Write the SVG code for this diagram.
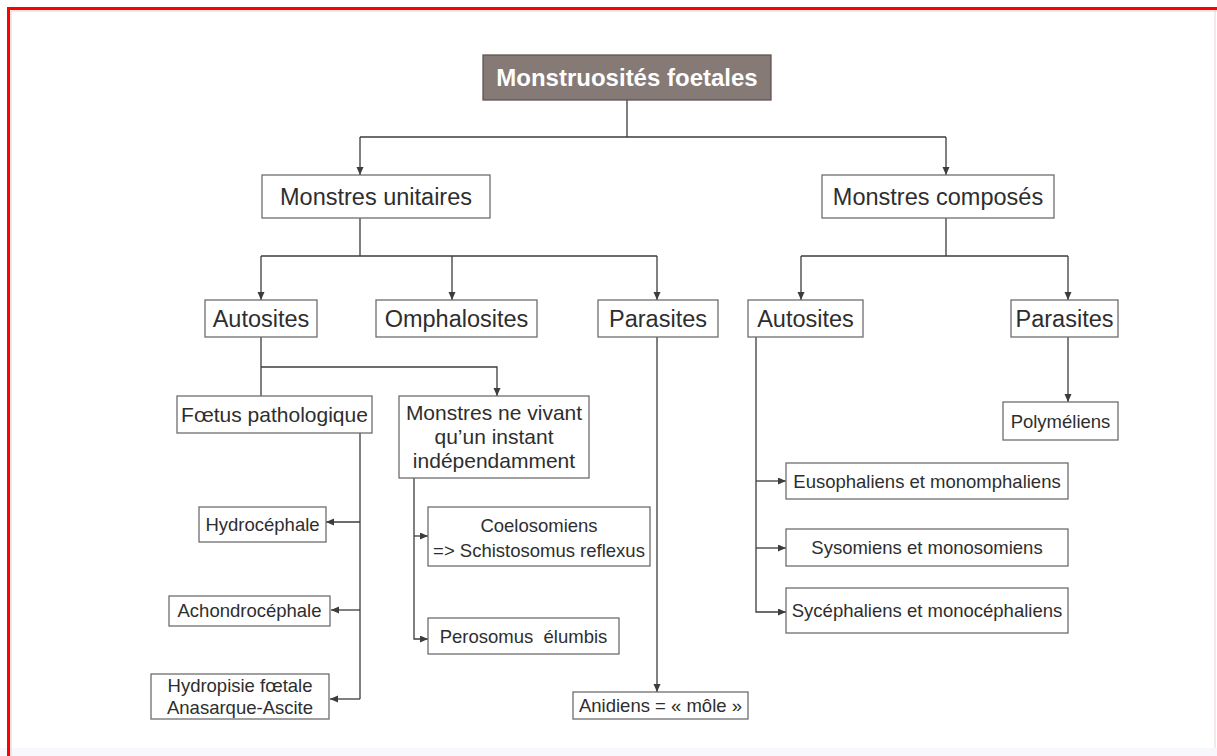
<svg xmlns="http://www.w3.org/2000/svg" width="1217" height="756" viewBox="0 0 1217 756">
  <style>
    .box { fill: #ffffff; stroke: #6e6e6e; stroke-width: 1.3; }
    .title-box { fill: #857a76; stroke: #5f5653; stroke-width: 1.3; }
    .t { font-family: "Liberation Sans", Arial, sans-serif; fill: #2e2e2e; text-anchor: middle; white-space: pre; }
    .title { font-size: 24px; font-weight: bold; fill: #ffffff; }
    .l1 { font-size: 23.5px; }
    .l2 { font-size: 21px; }
    .s { font-size: 18.5px; }
    .conn { fill: none; stroke: #3c3c3c; stroke-width: 1.3; }
  </style>
  <defs>
    <marker id="arrow" markerWidth="9" markerHeight="8" refX="8" refY="3.5" orient="auto" markerUnits="userSpaceOnUse">
      <path d="M0,0 L8,3.5 L0,7 z" fill="#3c3c3c"/>
    </marker>
  </defs>

  <!-- page frame -->
  <rect x="0" y="0" width="1217" height="756" fill="#ffffff"/>
  <rect x="0" y="748" width="1217" height="8" fill="#f8f7fc"/>
  <line x1="1215" y1="10" x2="1215" y2="748" stroke="#e6d6d2" stroke-width="1"/>
  <line x1="11" y1="11" x2="1217" y2="11" stroke="#f7c9c9" stroke-width="1"/>
  <line x1="11" y1="11" x2="11" y2="756" stroke="#f7c9c9" stroke-width="1"/>
  <path d="M8.5,756 V8.5 H1217" fill="none" stroke="#ff0000" stroke-width="3"/>

  <!-- connectors -->
  <g id="connectors" class="conn">
    <path d="M627,100 V137 M360,137 H946"/>
    <path d="M360,137 V175" marker-end="url(#arrow)"/>
    <path d="M946,137 V175" marker-end="url(#arrow)"/>

    <path d="M360,218 V256 M261,256 H657"/>
    <path d="M261,256 V300" marker-end="url(#arrow)"/>
    <path d="M452,256 V300" marker-end="url(#arrow)"/>
    <path d="M657,256 V300" marker-end="url(#arrow)"/>

    <path d="M946,218 V256 M801,256 H1068"/>
    <path d="M801,256 V300" marker-end="url(#arrow)"/>
    <path d="M1068,256 V300" marker-end="url(#arrow)"/>

    <path d="M261,337 V396"/>
    <path d="M261,367 H497 V396" marker-end="url(#arrow)"/>

    <path d="M360,433 V699"/>
    <path d="M360,522 H326" marker-end="url(#arrow)"/>
    <path d="M360,610 H331" marker-end="url(#arrow)"/>
    <path d="M360,699 H330" marker-end="url(#arrow)"/>

    <path d="M414,478 V639 H428" marker-end="url(#arrow)"/>
    <path d="M414,536 H428" marker-end="url(#arrow)"/>

    <path d="M657,337 V692" marker-end="url(#arrow)"/>

    <path d="M756,337 V612 H786" marker-end="url(#arrow)"/>
    <path d="M756,481 H786" marker-end="url(#arrow)"/>
    <path d="M756,548 H786" marker-end="url(#arrow)"/>

    <path d="M1068,337 V402" marker-end="url(#arrow)"/>
  </g>

  <!-- nodes -->
  <g id="root">
    <rect class="title-box" x="483" y="55" width="288" height="45"/>
    <text class="t title" x="627" y="86">Monstruosités foetales</text>
  </g>

  <g id="monstres-unitaires">
    <rect class="box" x="262" y="175" width="228" height="43"/>
    <text class="t l1" x="376" y="205">Monstres unitaires</text>
  </g>
  <g id="monstres-composes">
    <rect class="box" x="822" y="175" width="232" height="43"/>
    <text class="t l1" x="938" y="205">Monstres composés</text>
  </g>

  <g id="autosites-u">
    <rect class="box" x="205" y="300" width="112" height="37"/>
    <text class="t l1" x="261" y="327">Autosites</text>
  </g>
  <g id="omphalosites">
    <rect class="box" x="376" y="300" width="161" height="37"/>
    <text class="t l1" x="456.5" y="327">Omphalosites</text>
  </g>
  <g id="parasites-u">
    <rect class="box" x="598" y="300" width="120" height="37"/>
    <text class="t l1" x="658" y="327">Parasites</text>
  </g>
  <g id="autosites-c">
    <rect class="box" x="748" y="300" width="115" height="37"/>
    <text class="t l1" x="805.5" y="327">Autosites</text>
  </g>
  <g id="parasites-c">
    <rect class="box" x="1011" y="300" width="107" height="37"/>
    <text class="t l1" x="1064.5" y="327">Parasites</text>
  </g>

  <g id="foetus-pathologique">
    <rect class="box" x="177" y="396" width="195" height="37"/>
    <text class="t l2" x="274.5" y="422">Fœtus pathologique</text>
  </g>
  <g id="monstres-ne-vivant">
    <rect class="box" x="399" y="396" width="190" height="82"/>
    <text class="t l2" x="494" y="420">Monstres ne vivant</text>
    <text class="t l2" x="494" y="444">qu’un instant</text>
    <text class="t l2" x="494" y="468">indépendamment</text>
  </g>

  <g id="hydrocephale">
    <rect class="box" x="199" y="507" width="127" height="35"/>
    <text class="t s" x="262.5" y="531">Hydrocéphale</text>
  </g>
  <g id="achondrocephale">
    <rect class="box" x="169" y="596" width="161" height="30"/>
    <text class="t s" x="249.5" y="617">Achondrocéphale</text>
  </g>
  <g id="hydropisie">
    <rect class="box" x="151" y="674" width="178" height="45"/>
    <text class="t s" x="240" y="692">Hydropisie fœtale</text>
    <text class="t s" x="240" y="714">Anasarque-Ascite</text>
  </g>

  <g id="coelosomiens">
    <rect class="box" x="428" y="507" width="222" height="59"/>
    <text class="t s" x="539" y="532">Coelosomiens</text>
    <text class="t s" x="539" y="557">=&gt; Schistosomus reflexus</text>
  </g>
  <g id="perosomus">
    <rect class="box" x="428" y="618" width="191" height="36"/>
    <text class="t s" x="523.5" y="643" xml:space="preserve">Perosomus  élumbis</text>
  </g>

  <g id="anidiens">
    <rect class="box" x="573" y="692" width="175" height="27"/>
    <text class="t s" x="660.5" y="712">Anidiens = « môle »</text>
  </g>

  <g id="polymeliens">
    <rect class="box" x="1003" y="402" width="115" height="38"/>
    <text class="t s" x="1060.5" y="428">Polyméliens</text>
  </g>

  <g id="eusophaliens">
    <rect class="box" x="786" y="463" width="282" height="36"/>
    <text class="t s" x="927" y="488">Eusophaliens et monomphaliens</text>
  </g>
  <g id="sysomiens">
    <rect class="box" x="786" y="529" width="282" height="37"/>
    <text class="t s" x="927" y="554">Sysomiens et monosomiens</text>
  </g>
  <g id="sycephaliens">
    <rect class="box" x="786" y="588" width="282" height="45"/>
    <text class="t s" x="927" y="617">Sycéphaliens et monocéphaliens</text>
  </g>
</svg>
